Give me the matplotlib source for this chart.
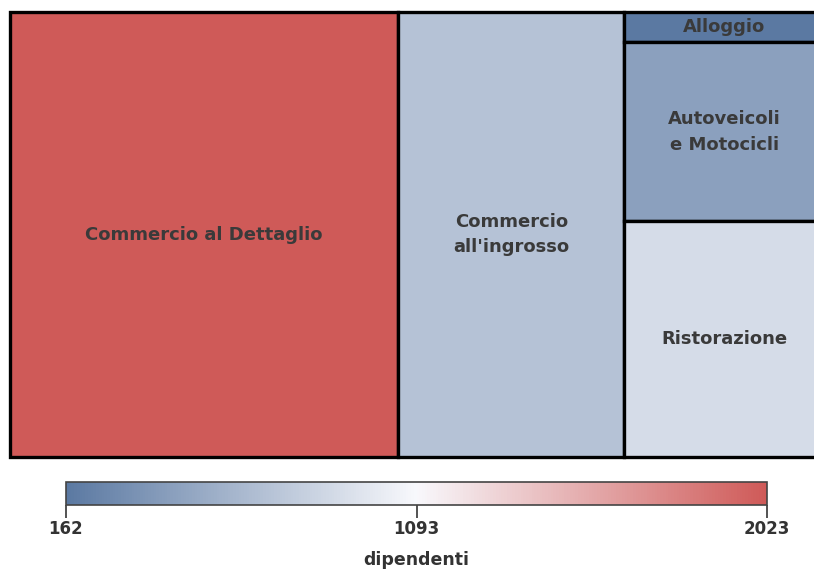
import matplotlib.pyplot as plt
import matplotlib.colors as mcolors
from matplotlib.patches import Rectangle

labels = ['Commercio al Dettaglio', "Commercio\nall'ingrosso", 'Alloggio',
          'Autoveicoli\ne Motocicli', 'Ristorazione']
sizes = [47.7, 27.8, 1.66, 9.88, 13.0]
dipendenti = [2023, 695, 162, 447, 885]
columns = [[0], [1], [2, 3, 4]]
ticks = [162, 1093, 2023]

cmap = mcolors.LinearSegmentedColormap.from_list(
    'bwr_soft', ['#5b79a2', '#f8f8fc', '#cf5a58'])
norm = mcolors.Normalize(vmin=min(dipendenti), vmax=max(dipendenti))


def layout(W, H):
    # each group is a column, items stacked top to bottom
    total = sum(sizes)
    rects = {}
    x = 0.0
    for col in columns:
        s = sum(sizes[i] for i in col)
        w = s / total * W
        y = H
        for i in col:
            h = sizes[i] / s * H
            rects[i] = (x, y - h, w, h)
            y -= h
        x += w
    return rects


def main():
    fig = plt.figure(figsize=(8.14, 5.74), dpi=100)
    W, H = 814.0, 445.0
    ax = fig.add_axes([10 / 814, 1 - 457 / 574, W / 814, H / 574])
    ax.set_xlim(0, W)
    ax.set_ylim(0, H)
    ax.axis('off')

    rects = layout(W, H)
    for i, lab in enumerate(labels):
        x, y, w, h = rects[i]
        ax.add_patch(Rectangle((x, y), w, h,
                               facecolor=cmap(norm(dipendenti[i])),
                               edgecolor='black', linewidth=2.4,
                               clip_on=False))
        ax.text(x + w / 2, y + h / 2, lab, ha='center', va='center',
                fontsize=13, fontweight='bold', color='#3a3a3a',
                linespacing=1.55)

    cax = fig.add_axes([66 / 814, 1 - 505 / 574, 701 / 814, 23 / 574])
    sm = plt.cm.ScalarMappable(norm=norm, cmap=cmap)
    cb = fig.colorbar(sm, cax=cax, orientation='horizontal', ticks=ticks)
    cb.outline.set_edgecolor('#444444')
    cb.outline.set_linewidth(1.2)
    cax.tick_params(length=9, width=1.3, color='#444444', labelsize=12,
                    labelcolor='#333333', pad=2)
    for t in cax.get_xticklabels():
        t.set_fontweight('bold')
    cb.set_label('dipendenti', fontsize=12.5, fontweight='bold',
                 color='#333333', labelpad=9)

    fig.savefig('out.png', dpi=100)


if __name__ == "__main__":
    main()
